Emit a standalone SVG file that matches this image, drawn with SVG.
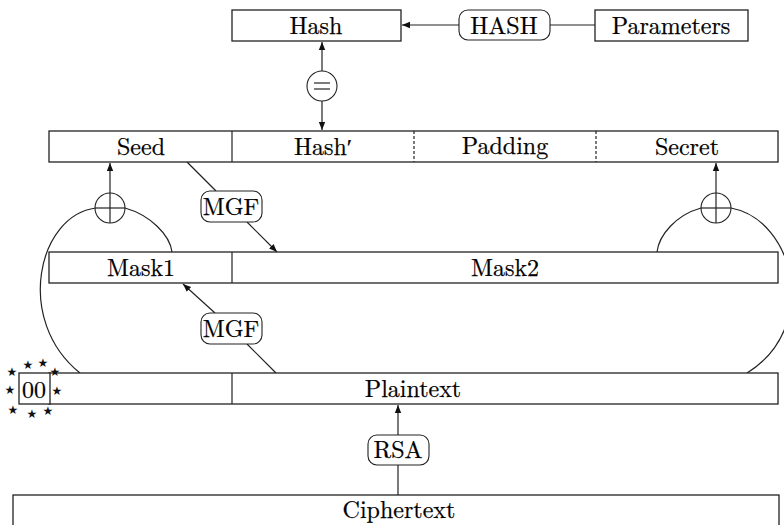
<svg xmlns="http://www.w3.org/2000/svg" width="784" height="525" viewBox="0 0 784 525">
<style>
.b{fill:#fff;stroke:#222;stroke-width:1.3}
.r{fill:#fff;stroke:#222;stroke-width:1.1}
.l{fill:none;stroke:#222;stroke-width:1.2}
.t{font-size:24px;fill:#000;text-anchor:middle;stroke:#000;stroke-width:0.25}
.s{font-size:12px;fill:#111;text-anchor:middle;dominant-baseline:central}
</style>
<defs>
<marker id="a" viewBox="0 0 10 10" refX="10" refY="5" markerWidth="8" markerHeight="8" markerUnits="userSpaceOnUse" orient="auto">
<path d="M0 1 L10 5 L0 9 Z" fill="#111"/>
</marker>
</defs>
<rect width="784" height="525" fill="#fff"/>
<g id="connectors">
<line class="l" x1="459" y1="25" x2="402" y2="25" marker-end="url(#a)"/>
<line class="l" x1="550" y1="25" x2="595" y2="25"/>
<line class="l" x1="322" y1="71" x2="322" y2="42" marker-end="url(#a)"/>
<line class="l" x1="322" y1="101" x2="322" y2="130" marker-end="url(#a)"/>
<line class="l" x1="110" y1="193" x2="110" y2="163" marker-end="url(#a)"/>
<line class="l" x1="716" y1="193" x2="716" y2="163" marker-end="url(#a)"/>
<path class="l" d="M96 208 C38 215 14 320 80 373"/>
<path class="l" d="M125 208 C150 215 170 235 172 252"/>
<path class="l" d="M701 208 C676 215 659 235 657 252"/>
<path class="l" d="M731 208 C795 220 820 328 747 373"/>
<line class="l" x1="187" y1="162" x2="216" y2="191"/>
<line class="l" x1="247" y1="222" x2="277" y2="252" marker-end="url(#a)"/>
<line class="l" x1="276" y1="373" x2="247" y2="344"/>
<line class="l" x1="215" y1="313" x2="183" y2="284" marker-end="url(#a)"/>
<line class="l" x1="398" y1="435" x2="398" y2="405" marker-end="url(#a)"/>
<line class="l" x1="398" y1="465" x2="398" y2="495"/>
</g>
<g id="hash"><rect class="b" x="232" y="10" width="169" height="31"/><text class="t" x="316" y="34" font-family="'Latin Modern Roman', 'Liberation Serif', serif">Hash</text></g>
<g id="hashfn"><rect class="r" x="459" y="10" width="91" height="30" rx="9"/><text class="t" x="504" y="34" font-family="'Latin Modern Roman', 'Liberation Serif', serif">HASH</text></g>
<g id="parameters"><rect class="b" x="595" y="10" width="153" height="31"/><text class="t" x="671" y="34" font-family="'Latin Modern Roman', 'Liberation Serif', serif">Parameters</text></g>
<g id="equals"><circle class="r" cx="322" cy="86" r="15"/><line class="l" x1="314" y1="83" x2="330" y2="83"/><line class="l" x1="314" y1="89" x2="330" y2="89"/></g>
<g id="db">
<rect class="b" x="49" y="131" width="729" height="31"/>
<line class="l" x1="232" y1="131" x2="232" y2="162" stroke-width="1.3"/>
<line class="l" x1="414" y1="131" x2="414" y2="162" stroke-dasharray="3,2"/>
<line class="l" x1="596" y1="131" x2="596" y2="162" stroke-dasharray="3,2"/>
<text class="t" x="141" y="155" font-family="'Latin Modern Roman', 'Liberation Serif', serif">Seed</text>
<text class="t" x="323" y="155" font-family="'Latin Modern Roman', 'Liberation Serif', serif">Hash′</text>
<text class="t" x="505" y="154" font-family="'Latin Modern Roman', 'Liberation Serif', serif">Padding</text>
<text class="t" x="687" y="155" font-family="'Latin Modern Roman', 'Liberation Serif', serif">Secret</text>
</g>
<g id="xor1"><circle class="r" cx="110" cy="208" r="15"/><line class="l" x1="95" y1="208" x2="125" y2="208"/><line class="l" x1="110" y1="193" x2="110" y2="223"/></g>
<g id="xor2"><circle class="r" cx="716" cy="208" r="15"/><line class="l" x1="701" y1="208" x2="731" y2="208"/><line class="l" x1="716" y1="193" x2="716" y2="223"/></g>
<g id="mgf1"><rect class="r" x="201" y="191" width="61" height="31" rx="9"/><text class="t" x="231" y="215" font-family="'Latin Modern Roman', 'Liberation Serif', serif">MGF</text></g>
<g id="mask">
<rect class="b" x="49" y="252" width="729" height="31"/>
<line class="l" x1="232" y1="252" x2="232" y2="283" stroke-width="1.3"/>
<text class="t" x="141" y="276" font-family="'Latin Modern Roman', 'Liberation Serif', serif">Mask1</text>
<text class="t" x="505" y="276" font-family="'Latin Modern Roman', 'Liberation Serif', serif">Mask2</text>
</g>
<g id="mgf2"><rect class="r" x="201" y="313" width="61" height="31" rx="9"/><text class="t" x="231" y="337" font-family="'Latin Modern Roman', 'Liberation Serif', serif">MGF</text></g>
<g id="plaintext">
<rect class="b" x="49" y="373" width="729" height="31"/>
<line class="l" x1="232" y1="373" x2="232" y2="404" stroke-width="0.9"/>
<text class="t" x="413" y="397" font-family="'Latin Modern Roman', 'Liberation Serif', serif">Plaintext</text>
</g>
<g id="zero">
<rect class="b" x="19" y="373" width="31" height="31"/>
<text class="t" x="34" y="398" font-family="'Latin Modern Roman', 'Liberation Serif', serif" font-size="23">00</text>
<g font-family="'DejaVu Sans', sans-serif">
<text class="s" x="12" y="372">★</text>
<text class="s" x="28" y="365">★</text>
<text class="s" x="43" y="363">★</text>
<text class="s" x="55" y="372">★</text>
<text class="s" x="10" y="390">★</text>
<text class="s" x="57" y="391">★</text>
<text class="s" x="13" y="410">★</text>
<text class="s" x="32" y="414">★</text>
<text class="s" x="48" y="411">★</text>
</g>
</g>
<g id="rsa"><rect class="r" x="368" y="435" width="61" height="30" rx="9"/><text class="t" x="398" y="458" font-family="'Latin Modern Roman', 'Liberation Serif', serif">RSA</text></g>
<g id="ciphertext"><rect class="b" x="13" y="495" width="766" height="40"/><text class="t" x="399" y="518" font-family="'Latin Modern Roman', 'Liberation Serif', serif">Ciphertext</text></g>
</svg>
